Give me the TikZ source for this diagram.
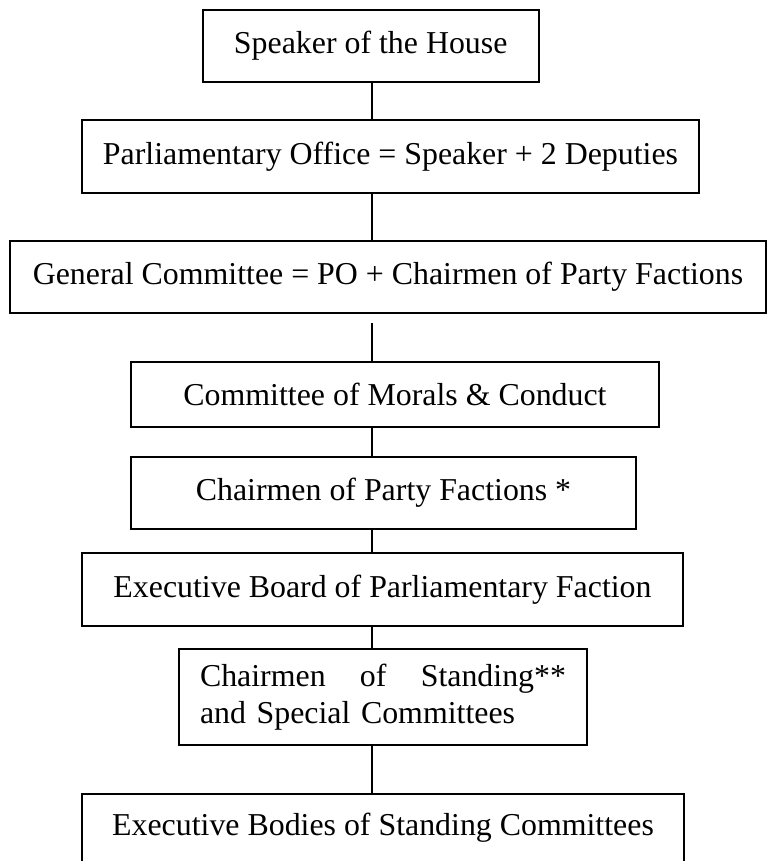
\documentclass[tikz,border=0pt]{standalone}
\usepackage{fontspec}
\setmainfont{Liberation Serif}
\usetikzlibrary{calc}
\begin{document}
\begin{tikzpicture}[x=0.75pt,y=-0.75pt,
  box/.style={draw=black,line width=1.25pt,fill=white,inner sep=0pt,align=center,
    font=\fontsize{23.9pt}{27.5pt}\selectfont},
  link/.style={draw=black,line width=1.25pt}]
\useasboundingbox (0,0) rectangle (768,861);
\coordinate (cx) at (372,0);
\node[box,minimum width=336*0.75pt,minimum height=72*0.75pt] (n1) at (370.7,46) {Speaker of the House};
\node[box,minimum width=617*0.75pt,minimum height=73*0.75pt] (n2) at (390.5,156.5) {Parliamentary Office = Speaker + 2 Deputies};
\node[box,minimum width=756*0.75pt,minimum height=72*0.75pt] (n3) at (388,277) {General Committee = PO + Chairmen of Party Factions};
\node[box,minimum width=528*0.75pt,minimum height=65*0.75pt] (n4) at (395,394.5) {Committee of Morals \& Conduct};
\node[box,minimum width=505*0.75pt,minimum height=72*0.75pt] (n5) at (383.5,493) {Chairmen of Party Factions *};
\node[box,minimum width=601*0.75pt,minimum height=73*0.75pt] (n6) at (382.5,589.5) {Executive Board of Parliamentary Faction};
\node[box,minimum width=408*0.75pt,minimum height=96*0.75pt,text width=366*0.75pt,align=left] (n7) at (383,697) {Chairmen\hfill of\hfill Standing**\\and Special Committees};
\node[box,draw=none,fill=none,minimum width=600*0.75pt,minimum height=66*0.75pt] (n8) at (383,828) {Executive Bodies of Standing Committees};
\draw[link] ($(n8.south west)+(0,6)$) -- (n8.north west) -- (n8.north east) -- ($(n8.south east)+(0,6)$);
\draw[link] (n1.south -| cx) -- (n2.north -| cx);
\draw[link] (n2.south -| cx) -- (n3.north -| cx);
\draw[link] ($(n3.south -| cx)+(0,9)$) -- (n4.north -| cx);
\draw[link] (n4.south -| cx) -- (n5.north -| cx);
\draw[link] (n5.south -| cx) -- (n6.north -| cx);
\draw[link] (n6.south -| cx) -- (n7.north -| cx);
\draw[link] (n7.south -| cx) -- (n8.north -| cx);
\end{tikzpicture}
\end{document}
